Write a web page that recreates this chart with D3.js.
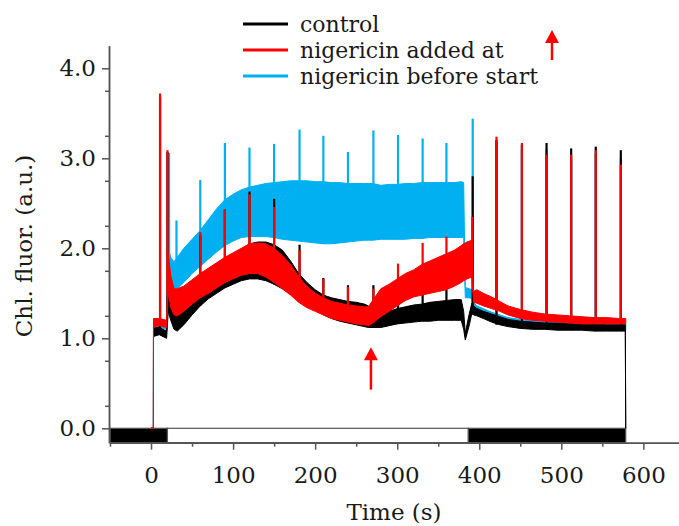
<!DOCTYPE html>
<html>
<head>
<meta charset="utf-8">
<script src="https://cdn.jsdelivr.net/npm/d3@7"></script>
<style>
  body { margin: 0; background: #fff; }
  text { font-family: "DejaVu Serif", serif; fill: #1a1a1a; }
</style>
</head>
<body>
<div id="chart"></div>
<script>
// sample times (s) shared by the three traces
const times = [0, 2.9, 3, 10, 19, 21, 24, 28, 32, 40, 50, 60, 70, 80, 90, 100, 110, 120, 130, 140,
  150, 160, 170, 180, 190, 200, 210, 220, 230, 240, 250, 260, 265, 270, 280, 290, 300, 310, 320, 330,
  340, 350, 360, 370, 378, 381, 383, 385, 388, 391, 393, 397, 405, 415, 425, 435, 450, 465, 480, 495,
  510, 525, 540, 555, 570, 578, 578.5];

// lower / upper edge of the noisy band for each trace
const controlLo = [0, 0, 1.02, 1.04, 1.0, 1.3, 1.2, 1.1, 1.08, 1.15, 1.26, 1.36, 1.44, 1.5, 1.56, 1.6, 1.64, 1.66, 1.66, 1.64,
  1.6, 1.55, 1.5, 1.44, 1.38, 1.32, 1.26, 1.22, 1.19, 1.17, 1.15, 1.13, 1.12, 1.12, 1.12, 1.14, 1.16, 1.17, 1.18, 1.19,
  1.19, 1.2, 1.2, 1.2, 1.2, 1.1, 0.98, 1.05, 1.15, 1.28, 1.26, 1.25, 1.22, 1.18, 1.15, 1.13, 1.11, 1.1, 1.1, 1.09,
  1.09, 1.09, 1.08, 1.08, 1.08, 1.08, 0];
const controlHi = [0, 0, 1.12, 1.12, 1.08, 1.85, 1.6, 1.45, 1.42, 1.5, 1.6, 1.68, 1.75, 1.82, 1.88, 1.94, 1.99, 2.05, 2.07, 2.07,
  2.04, 1.98, 1.86, 1.72, 1.62, 1.54, 1.48, 1.45, 1.43, 1.41, 1.4, 1.38, 1.36, 1.3, 1.26, 1.3, 1.33, 1.35, 1.37, 1.38,
  1.4, 1.41, 1.42, 1.43, 1.43, 1.3, 1.05, 1.15, 1.28, 1.39, 1.36, 1.33, 1.3, 1.27, 1.24, 1.21, 1.19, 1.18, 1.17, 1.17,
  1.16, 1.16, 1.16, 1.15, 1.15, 1.15, 0];

const addedLo = [0, 0, 1.12, 1.14, 1.12, 1.5, 1.35, 1.26, 1.25, 1.3, 1.38, 1.45, 1.5, 1.56, 1.62, 1.66, 1.7, 1.72, 1.72, 1.68,
  1.62, 1.55, 1.48, 1.4, 1.34, 1.3, 1.26, 1.22, 1.2, 1.18, 1.16, 1.15, 1.14, 1.17, 1.24, 1.3, 1.36, 1.42, 1.46, 1.48,
  1.5, 1.52, 1.54, 1.58, 1.62, 1.64, 1.65, 1.66, 1.67, 1.68, 1.4, 1.39, 1.36, 1.33, 1.3, 1.26, 1.22, 1.2, 1.19, 1.18,
  1.17, 1.16, 1.16, 1.16, 1.16, 1.16, 1.16];
const addedHi = [0, 0, 1.22, 1.22, 1.2, 1.95, 1.7, 1.55, 1.55, 1.58, 1.65, 1.72, 1.78, 1.84, 1.9, 1.95, 2.0, 2.05, 2.06, 2.05,
  2.0, 1.92, 1.82, 1.68, 1.58, 1.5, 1.45, 1.41, 1.39, 1.37, 1.36, 1.35, 1.35, 1.42, 1.55, 1.6, 1.66, 1.72, 1.76, 1.82,
  1.86, 1.9, 1.94, 1.98, 2.03, 2.05, 2.06, 2.07, 2.08, 2.09, 1.52, 1.54, 1.5, 1.46, 1.41, 1.36, 1.32, 1.29, 1.27, 1.26,
  1.25, 1.24, 1.23, 1.23, 1.22, 1.22, 1.22];

const beforeLo = [0, 0, 1.12, 1.12, 1.1, 1.6, 1.6, 1.55, 1.55, 1.62, 1.72, 1.8, 1.88, 1.96, 2.03, 2.08, 2.12, 2.13, 2.13, 2.13,
  2.12, 2.1, 2.09, 2.08, 2.07, 2.06, 2.05, 2.05, 2.06, 2.07, 2.08, 2.09, 2.09, 2.09, 2.1, 2.1, 2.1, 2.1, 2.11, 2.11,
  2.12, 2.12, 2.12, 2.12, 2.12, 2.12, 1.45, 1.45, 1.45, 1.44, 1.3, 1.28, 1.24, 1.2, 1.17, 1.15, 1.13, 1.12, 1.11, 1.11,
  1.1, 1.1, 1.09, 1.09, 1.09, 1.09, 1.09];
const beforeHi = [0, 0, 1.2, 1.2, 1.18, 2.0, 1.9, 1.85, 1.9, 2.0, 2.1, 2.2, 2.32, 2.44, 2.54, 2.6, 2.65, 2.68, 2.7, 2.72,
  2.73, 2.74, 2.75, 2.75, 2.75, 2.74, 2.74, 2.73, 2.73, 2.72, 2.72, 2.72, 2.72, 2.72, 2.7, 2.71, 2.71, 2.72, 2.72, 2.73,
  2.73, 2.73, 2.73, 2.73, 2.74, 2.73, 1.56, 1.56, 1.55, 1.54, 1.4, 1.36, 1.33, 1.29, 1.26, 1.23, 1.21, 1.2, 1.19, 1.19,
  1.18, 1.18, 1.18, 1.17, 1.17, 1.17, 1.17];

// saturating pulses: time and peak value
const controlPulseT = [11, 20, 60, 90, 120, 150, 181, 210, 240, 271, 301, 331, 360, 392, 421, 452, 482, 512, 542, 572.5];
const controlPulseV = [3.68, 3.07, 2.15, 2.43, 2.63, 2.55, 2.04, 1.67, 1.59, 1.59, 1.5, 1.57, 1.54, 2.8, 3.2, 3.15, 3.17, 3.11, 3.13, 3.09];
const addedPulseT = [11, 20, 60, 90, 120, 150, 181, 210, 240, 271, 301, 331, 360, 391.6, 421, 452, 482, 512, 542, 572.5];
const addedPulseV = [3.72, 3.09, 2.18, 2.43, 2.6, 2.46, 1.98, 1.66, 1.57, 1.55, 1.83, 2.06, 2.13, 2.35, 3.24, 3.17, 3.04, 3.04, 3.09, 2.93];
const beforePulseT = [22, 31, 60, 90, 120, 150, 181, 210, 240, 271, 301, 331, 360, 392, 421, 452, 482, 512, 542, 572.5];
const beforePulseV = [3.06, 2.31, 2.76, 3.17, 3.12, 3.16, 3.32, 3.25, 3.07, 3.31, 3.26, 3.22, 3.17, 3.44, 3.2, 3.1, 3.1, 3.0, 3.05, 3.0];

// light bar: dark / light / dark
const lightBar = [
  { from: -50, to: 20, dark: true },
  { from: 20, to: 386.7, dark: false },
  { from: 386.7, to: 578.5, dark: true }
];

const seriesNames = ["control", "nigericin added at", "nigericin before start"];
const seriesColors = ["#000000", "#ff0000", "#00b0f0"];
const yTicks = [0, 1, 2, 3, 4];
const xTicks = [0, 100, 200, 300, 400, 500, 600];
const arrowTime = 268;

const width = 679, height = 526;
const svg = d3.select("#chart").append("svg").attr("width", width).attr("height", height);

const x = d3.scaleLinear().domain([-50, 650]).range([110, 684.4]);
const y = d3.scaleLinear().domain([-0.16, 4.25]).range([442.7, 45.8]);

function drawSeries(lo, hi, pulseT, pulseV, color) {
  const data = times.map((t, i) => ({ t: t, lo: lo[i], hi: hi[i] }));
  svg.append("path")
    .datum(data)
    .attr("fill", color)
    .attr("stroke", color)
    .attr("stroke-width", 1)
    .attr("stroke-linejoin", "bevel")
    .attr("d", d3.area()
      .x(d => x(d.t))
      .y0(d => y(d.lo))
      .y1(d => y(d.hi))
    );
  const bis = d3.bisector(d => d.t);
  svg.append("g").selectAll("line")
    .data(pulseT.map((t, i) => ({ t: t, v: pulseV[i], base: data[bis.center(data, t)].lo })))
    .join("line")
    .attr("x1", d => x(d.t)).attr("x2", d => x(d.t))
    .attr("y1", d => y(d.base)).attr("y2", d => y(d.v))
    .attr("stroke", color)
    .attr("stroke-width", 2.2);
}

// light bar under the traces
svg.append("g").selectAll("rect")
  .data(lightBar)
  .join("rect")
  .attr("x", d => x(d.from))
  .attr("width", d => x(d.to) - x(d.from))
  .attr("y", y(0))
  .attr("height", y(-0.16) - y(0))
  .attr("fill", d => d.dark ? "#000" : "#fff")
  .attr("stroke", "#555")
  .attr("stroke-width", 1.2);

drawSeries(beforeLo, beforeHi, beforePulseT, beforePulseV, seriesColors[2]);
drawSeries(controlLo, controlHi, controlPulseT, controlPulseV, seriesColors[0]);
drawSeries(addedLo, addedHi, addedPulseT, addedPulseV, seriesColors[1]);

// axes
const axisColor = "#555";
svg.append("g").attr("transform", "translate(109,0)")
  .call(d3.axisLeft(y).tickValues(yTicks).tickFormat(d3.format(".1f")).tickSize(7).tickSizeOuter(0).tickPadding(6));
svg.append("g").attr("transform", "translate(109,0)")
  .call(d3.axisLeft(y).tickValues(d3.range(0.25, 4.25, 0.5)).tickFormat("").tickSize(4).tickSizeOuter(0));
svg.append("g").attr("transform", `translate(0,${y(-0.16)})`)
  .call(d3.axisBottom(x).tickValues(xTicks).tickFormat(d3.format("d")).tickSize(7).tickSizeOuter(0).tickPadding(17));
svg.append("g").attr("transform", `translate(0,${y(-0.16)})`)
  .call(d3.axisBottom(x).tickValues(d3.range(-50, 650, 100)).tickFormat("").tickSize(4).tickSizeOuter(0));
svg.selectAll(".domain, .tick line").attr("stroke", axisColor).attr("stroke-width", 1.5);
svg.selectAll(".tick text").attr("font-size", 23).attr("font-family", "DejaVu Serif").attr("fill", "#1a1a1a");

// axis titles
svg.append("text")
  .attr("x", 394).attr("y", 520)
  .attr("text-anchor", "middle")
  .attr("font-size", 23)
  .text("Time (s)");
svg.append("text")
  .attr("transform", "translate(32,246) rotate(-90)")
  .attr("text-anchor", "middle")
  .attr("font-size", 23)
  .text("Chl. fluor. (a.u.)");

// arrow marking nigericin addition
function arrow(g, xc, yTail, yTip, headW, headH) {
  g.append("line")
    .attr("x1", xc).attr("x2", xc)
    .attr("y1", yTail).attr("y2", yTip + headH - 1)
    .attr("stroke", "#ff0000").attr("stroke-width", 2.5);
  g.append("path")
    .attr("d", `M${xc},${yTip}L${xc - headW / 2},${yTip + headH}L${xc + headW / 2},${yTip + headH}Z`)
    .attr("fill", "#ff0000");
}
arrow(svg, x(arrowTime), y(0.43), y(0.9), 14, 13);

// legend
const legend = svg.append("g");
seriesNames.forEach((name, i) => {
  const ly = 24 + i * 26;
  legend.append("line")
    .attr("x1", 243).attr("x2", 288)
    .attr("y1", ly).attr("y2", ly)
    .attr("stroke", seriesColors[i]).attr("stroke-width", 3);
  legend.append("text")
    .attr("x", 300).attr("y", ly + 8)
    .attr("font-size", 22)
    .text(name);
});
arrow(legend, 552, 60, 30, 14, 13);
</script>
</body>
</html>
